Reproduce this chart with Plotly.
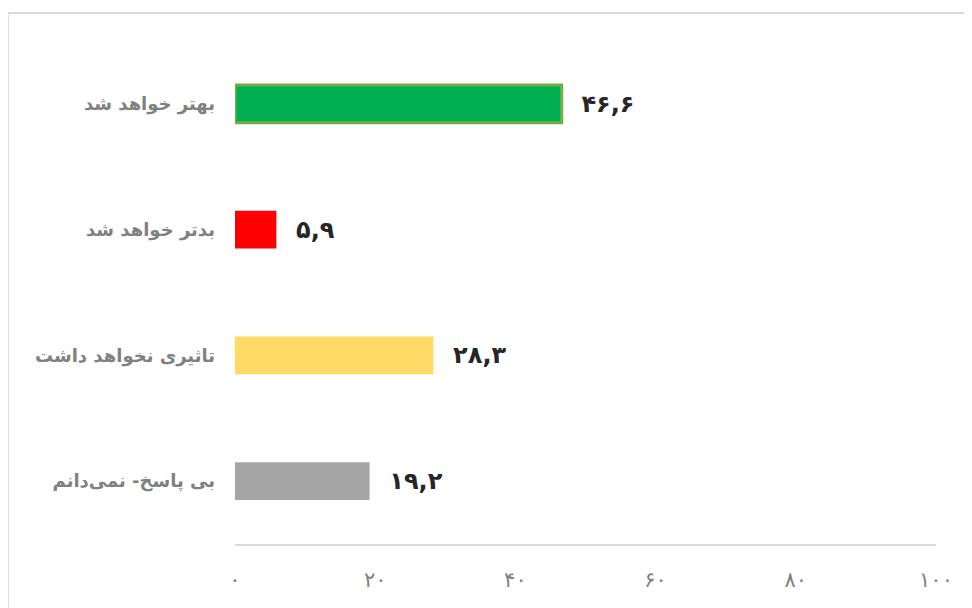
import plotly.graph_objects as go

#@ Data (top to bottom)
categories = ['بهتر خواهد شد', 'بدتر خواهد شد', 'تاثیری نخواهد داشت', 'بی پاسخ- نمی‌دانم']
values = [46.6, 5.9, 28.3, 19.2]
bar_colors = ['#00B050', '#FF0000', '#FFD966', '#A5A5A5']
edge_colors = ['#70AD47', 'rgba(0,0,0,0)', 'rgba(0,0,0,0)', 'rgba(0,0,0,0)']
edge_widths = [3, 0, 0, 0]
tick_vals = [0, 20, 40, 60, 80, 100]

#$ Persian digits helper
fa = str.maketrans('0123456789.', '۰۱۲۳۴۵۶۷۸۹,')
def to_fa(v):
    return str(v).translate(fa)

labels = ['  ' + to_fa(v) for v in values]
tick_text = [to_fa(v) for v in tick_vals]

fig = go.Figure(go.Bar(
    x=values, y=categories, orientation='h', width=0.3,
    marker=dict(color=bar_colors, line=dict(color=edge_colors, width=edge_widths)),
    text=labels, textposition='outside', cliponaxis=False,
    textfont=dict(family='DejaVu Sans', size=24, color='#262626', weight='bold'),
))

#! page body adds 8px offset, so margins are shifted to compensate
fig.update_layout(
    width=972, height=608, plot_bgcolor='white', paper_bgcolor='white',
    margin=dict(l=227, r=44, t=33, b=72), showlegend=False,
    font=dict(family='DejaVu Sans'),
    shapes=[dict(type='rect', xref='paper', yref='paper', x0=-0.324, x1=1.2, y0=-0.3, y1=1.0557,
                 line=dict(color='#D9D9D9', width=2), layer='below')],
)
fig.update_xaxes(range=[0, 100], tickvals=tick_vals, ticktext=tick_text, showgrid=False,
                 zeroline=False, showline=True, linecolor='#D9D9D9', linewidth=2,
                 ticks='', ticklabelstandoff=16,
                 tickfont=dict(family='DejaVu Sans', size=21, color='#808080'))
fig.update_yaxes(autorange='reversed', showgrid=False, zeroline=False, showline=False,
                 ticks='', ticklabelstandoff=19,
                 tickfont=dict(family='DejaVu Sans', size=18, color='#808080', weight='bold'))

fig.write_html('out.html')
